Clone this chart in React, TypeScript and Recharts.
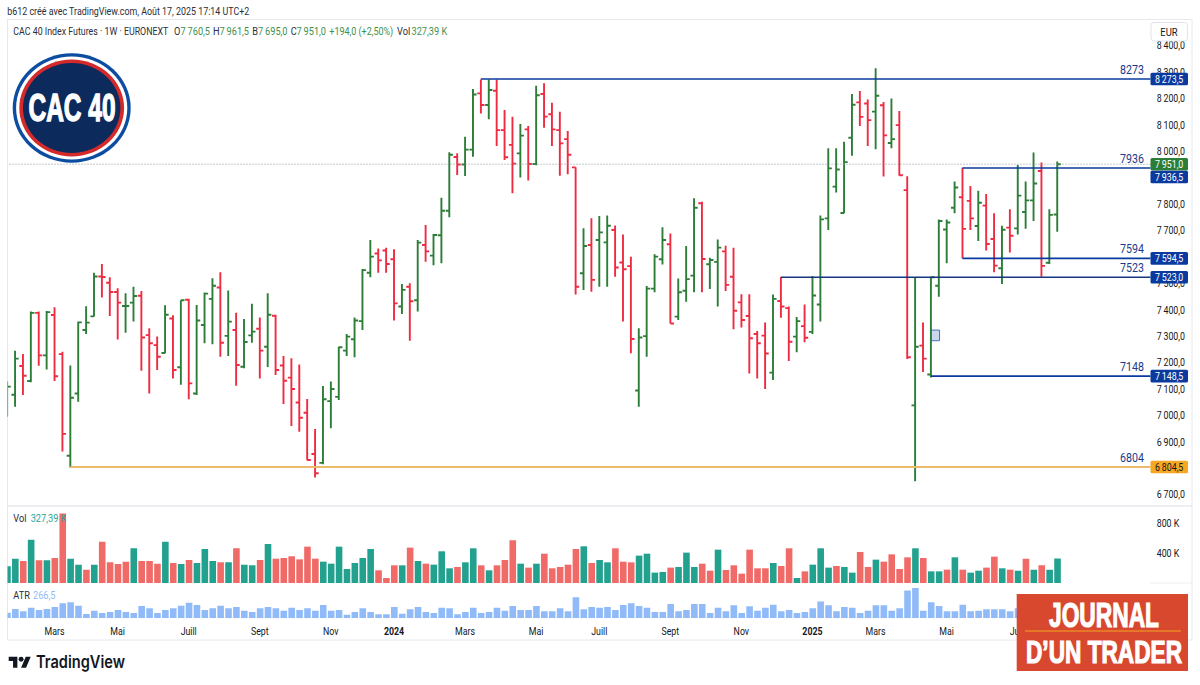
import React from "react";
import { ComposedChart, Bar, Cell, XAxis, YAxis, ReferenceLine, ReferenceArea } from "recharts";

// Weekly OHLC values
const opens = [7071,7078,7187,7130,7388,7227,7380,7232,6847,7083,7323,7375,7526,7502,7467,7414,7427,7453,7304,7266,7236,7367,7182,7438,7083,7342,7441,7484,7301,7323,7184,7303,7328,7260,7377,7189,7143,7049,7010,6854,6820,7054,7070,7245,
7288,7357,7540,7613,7624,7591,7412,7487,7436,7645,7605,7682,7775,7978,7950,8006,8219,8175,8229,8080,8024,7992,8083,7952,8217,8140,8080,8046,7939,7538,7645,7664,7655,7702,7579,7565,7094,7300,7480,7591,7648,7374,7472,7529,7803,7572,7581,7621,7525,7428,7376,7308,7302,7162,7433,7406,7298,7338,7316,7420,7746,7866,7766,8051,8185,8181,8150,8174,8031,8099,7853,7038,7264,
7155,7491,7704,7786,7826,7812,7717,7794,7668,7557,7711,7708,7770,7814,7925,7578,7760.5];
const highs = [7128,7245,7232,7393,7393,7395,7409,7241,7189,7355,7413,7540,7573,7523,7481,7462,7487,7471,7330,7299,7417,7379,7436,7442,7418,7465,7519,7542,7473,7389,7365,7423,7371,7462,7381,7225,7216,7193,7062,6948,7111,7128,7260,7308,
7371,7554,7664,7632,7635,7629,7497,7500,7664,7721,7687,7824,7996,7992,8055,8236,8272,8272,8272,8156,8131,8103,8096,8248,8257,8184,8150,8077,7939,7708,7746,7755,7757,7719,7685,7601,7330,7490,7610,7712,7689,7518,7641,7822,7809,7597,7666,7642,7635,7459,7459,7319,7352,7458,7524,7412,7372,7420,7528,7757,8011,8011,8036,8217,8228,8196,8314,8186,8200,8152,7905,7524,7352,
7525,7742,7742,7885,7938,7868,7850,7838,7765,7718,7780,7948,7885,7995,7957,7780,7961.5];
const lows = [6995,7033,7077,7125,7188,7174,7130,6863,6803,7052,7308,7374,7446,7376,7287,7313,7355,7169,7083,7172,7235,7140,7116,7061,7077,7273,7269,7222,7225,7112,7178,7275,7140,7183,7153,7043,6960,6938,6830,6765,6815,6951,7058,7225,
7220,7323,7523,7540,7540,7359,7384,7283,7393,7582,7568,7576,7750,7910,7906,7979,8143,8121,8020,7967,7841,7901,7889,7947,8089,8020,7907,7913,7458,7475,7468,7487,7487,7525,7355,7235,7033,7222,7466,7571,7348,7361,7430,7466,7466,7478,7412,7471,7326,7333,7159,7140,7100,7134,7370,7206,7239,7277,7308,7355,7702,7844,7765,7983,8096,8020,8008,7904,8011,7907,7213,6751,7164,
7143,7449,7576,7765,7595,7702,7660,7624,7542,7497,7617,7685,7707,7736,7525,7573,7695];
const closes = [7109,7215,7150,7388,7227,7391,7148,6930,7067,7352,7351,7526,7524,7467,7427,7414,7452,7295,7273,7222,7381,7172,7436,7121,7359,7461,7491,7275,7355,7191,7278,7317,7245,7381,7172,7131,7100,6991,6831,6781,7061,7100,7258,7298,
7359,7550,7601,7587,7573,7424,7475,7432,7654,7621,7683,7775,7987,7950,8006,8215,8175,8232,8080,7977,7953,8059,7952,8212,8131,8083,8030,7987,7487,7641,7513,7693,7718,7560,7553,7289,7295,7480,7601,7664,7348,7466,7516,7786,7592,7588,7635,7494,7396,7361,7292,7273,7234,7441,7412,7279,7357,7294,7454,7742,7935,7931,7959,8176,8130,8118,8210,8060,8046,7909,7220,7260,7215,
7523,7736,7730,7863,7706,7746,7805,7649,7567,7703,7680,7832,7814,7878,7566,7759,7951];
const volumes = [224,326,295,581,304,304,335,930,326,246,179,246,554,277,255,286,465,295,295,259,554,268,255,308,268,456,295,277,277,465,246,237,308,523,326,335,358,317,487,326,286,259,487,188,268,335,456,170,67,237,
237,474,295,259,246,425,197,215,277,465,237,170,237,308,572,259,206,259,393,197,215,246,456,492,268,308,277,465,286,277,367,393,139,148,206,215,407,215,259,165,447,174,237,125,447,197,197,268,228,465,67,
156,246,465,206,228,215,139,416,215,313,286,384,188,344,465,335,156,156,179,344,179,139,165,206,353,197,179,165,326,179,237,179,327];
const atrs = [181,299,224,341,267,299,363,480,512,405,139,245,171,203,267,203,171,395,320,171,267,320,405,501,427,267,320,405,320,363,245,203,320,363,320,245,341,267,320,245,427,245,267,117,203,320,203,128,128,363,
149,288,363,203,171,341,320,128,203,341,171,203,341,245,395,267,267,395,224,224,320,224,672,288,363,341,363,267,427,480,395,341,203,203,459,224,267,459,459,171,341,224,416,171,384,245,341,437,224,267,171,
203,320,534,416,224,363,341,171,245,416,416,245,320,886,971,245,512,395,224,224,437,224,245,288,288,288,224,320,280,270,300,275,266.5];

const priceTicks = [6700,6900,7000,7100,7200,7300,7400,7500,7700,7800,8000,8100,8200,8300,8400];
const volumeTicks = [400,800];
const timeTickIndexes = [6,14,23,32,41,49,58,67,75,84,93,102,110,119,128];
const timeTickNames = ["Mars","Mai","Juill","Sept","Nov","2024","Mars","Mai","Juill","Sept","Nov","2025","Mars","Mai","Juill"];

const levelStarts = [60,121,121,98,117,8];
const levelPrices = [8273.5,7936.5,7594.5,7523,7148.5,6804.5];
const levelNotes = ["8273","7936","7594","7523","7148","6804"];
const levelColors = ["#0b3a9e","#0b3a9e","#0b3a9e","#17357f","#0b3a9e","#e9bb6a"];
const levelTagFills = ["#0b3a9e","#0b3a9e","#0b3a9e","#0b3a9e","#0b3a9e","#f7a823"];
const levelTagTexts = ["#fff","#fff","#fff","#fff","#fff","#131722"];
const levelTagShift = [0,9,0,0,0,0];
const lastPrice = 7951;

const rows = opens.map((o, i) => ({
  i, o, h: highs[i], l: lows[i], c: closes[i], vol: volumes[i], atr: atrs[i],
}));

const W = 1200;
const DOMAIN: [number, number] = [0.05, 144.82];
const PRICE_DOMAIN: [number, number] = [6656.9, 8500.7];
const UI = "Roboto, sans-serif";
const HEAVY = "'Liberation Sans', sans-serif";
const GREEN = "#2c7d37";
const LEGEND_GREEN = "#3f8f4d";
const RED = "#ef2b42";
const INK = "#131722";
const fmtPrice = (v: number) => {
  const [a, b] = v.toFixed(1).split(".");
  return a.replace(/\B(?=(\d{3})+$)/g, "\u2009") + "," + b;
};

// Text with the squeezed look of the reference's screenshot
const T = ({ x, y, size = 11, sx = 0.8, fill = INK, anchor = "start", weight = 400, children }: any) => (
  <text
    transform={`translate(${x} ${y}) scale(${sx} 1)`}
    fontFamily={UI}
    fontSize={size}
    fontWeight={weight}
    fill={fill}
    textAnchor={anchor}
  >
    {children}
  </text>
);

const OhlcShape = (p: any) => {
  const { x, width, y, height, payload } = p;
  const cx = x + width / 2;
  const top = Math.min(y, y + height);
  const k = Math.abs(height) / (payload.h - payload.l);
  const yO = top + (payload.h - payload.o) * k;
  const yC = top + (payload.h - payload.c) * k;
  const col = payload.c >= payload.o ? GREEN : RED;
  return (
    <path
      d={`M${cx} ${top}V${top + Math.abs(height)}M${cx - 3.6} ${yO}H${cx}M${cx} ${yC}H${cx + 3.6}`}
      stroke={col}
      strokeWidth={1.9}
      fill="none"
    />
  );
};

const PriceTag = (p: any) => {
  const { viewBox, fill, color, text, note, shift } = p;
  const lineY = viewBox.y;
  const right = 1150.5;
  const yc = lineY + shift;
  return (
    <g>
      {note ? <T x={1144} y={lineY - 5} size={13} sx={0.82} fill="#1b3a8c" anchor="end">{note}</T> : null}
      <rect x={right} y={yc - 6.3} width={37.5} height={12.6} rx={1.5} fill={fill} />
      <T x={right + 18.7} y={yc + 3.8} fill={color} anchor="middle">{text}</T>
    </g>
  );
};

const TimeTick = (p: any) => {
  const { x, y, payload } = p;
  const name = timeTickNames[timeTickIndexes.indexOf(payload.value)];
  const bold = /^\d/.test(name);
  return <T x={x} y={y + 5} anchor="middle" weight={bold ? 700 : 400}>{name}</T>;
};

const ValueTick = (p: any) => {
  const { x, y, payload, format } = p;
  return <T x={x} y={y + 3.8}>{format(payload.value)}</T>;
};

const abs = (top: number, h: number): React.CSSProperties => ({ position: "absolute", left: 0, top, width: W, height: h });

export default function App() {
  return (
    <div style={{ position: "absolute", left: 0, top: 0, width: 1200, height: 685, background: "#fff", overflow: "hidden" }}>
      <svg width={1200} height={685} style={{ position: "absolute", left: 0, top: 0 }}>
        <rect x={7.5} y={19.5} width={1184.5} height={620.5} fill="none" stroke="#e6e8ee" />
        <line x1={8} x2={1192} y1={506} y2={506} stroke="#e6e8ee" strokeWidth={1.5} />
        <line x1={1150} x2={1192} y1={583} y2={583} stroke="#eceef2" />
      </svg>

      <div style={abs(19, 487)}>
        <ComposedChart width={W} height={487} data={rows} margin={{ top: 0, right: 0, bottom: 0, left: 7.5 }}>
          <XAxis type="number" dataKey="i" domain={DOMAIN} allowDataOverflow hide />
          <YAxis
            orientation="right"
            width={49.5}
            domain={PRICE_DOMAIN}
            allowDataOverflow
            ticks={priceTicks}
            interval={0}
            axisLine={false}
            tickLine={false}
            tickMargin={0.2}
            tick={<ValueTick format={fmtPrice} />}
          />
          <ReferenceLine y={lastPrice} stroke="#8a8f98" strokeDasharray="1 2" strokeWidth={1} />
          {levelPrices.map((price, k) => (
            <ReferenceLine
              key={k}
              segment={[{ x: levelStarts[k], y: price }, { x: DOMAIN[1], y: price }]}
              stroke={levelColors[k]}
              strokeWidth={k === 5 ? 2 : 1.6}
            />
          ))}
          <ReferenceArea x1={117} x2={118.1} y1={7282.7} y2={7323} fill="#c5d3ec" fillOpacity={0.9} stroke="#4a70c0" strokeWidth={1} />
          <Bar dataKey={(d: any) => [d.l, d.h]} barSize={2} shape={<OhlcShape />} isAnimationActive={false} />
        </ComposedChart>
      </div>

      <div style={abs(19, 487)}>
        <ComposedChart width={W} height={487} data={rows} margin={{ top: 0, right: 49.5, bottom: 0, left: 7.5 }}>
          <XAxis type="number" dataKey="i" domain={DOMAIN} allowDataOverflow hide />
          <YAxis hide domain={PRICE_DOMAIN} allowDataOverflow />
          <ReferenceLine
            y={lastPrice}
            stroke="none"
            label={<PriceTag fill={GREEN} color="#fff" text={fmtPrice(lastPrice)} shift={0} />}
          />
          {levelPrices.map((price, k) => (
            <ReferenceLine
              key={k}
              y={price}
              stroke="none"
              label={<PriceTag fill={levelTagFills[k]} color={levelTagTexts[k]} text={fmtPrice(price)} note={levelNotes[k]} shift={levelTagShift[k]} />}
            />
          ))}
        </ComposedChart>
      </div>

      <div style={abs(506, 77)}>
        <ComposedChart width={W} height={77} data={rows} margin={{ top: 0, right: 0, bottom: 0, left: 7.5 }}>
          <XAxis type="number" dataKey="i" domain={DOMAIN} allowDataOverflow hide />
          <YAxis
            orientation="right"
            width={49.5}
            domain={[0, 1032]}
            allowDataOverflow
            ticks={volumeTicks}
            axisLine={false}
            tickLine={false}
            tickMargin={0.2}
            tick={<ValueTick format={(v: number) => `${v} K`} />}
          />
          <Bar dataKey="vol" barSize={6.6} isAnimationActive={false}>
            {rows.map((r, k) => (
              <Cell key={k} fill={k === 0 || r.c >= rows[k - 1].c ? "#22a18f" : "#f06a68"} />
            ))}
          </Bar>
        </ComposedChart>
      </div>

      <div style={abs(583, 57)}>
        <ComposedChart width={W} height={57} data={rows} margin={{ top: 0, right: 49.5, bottom: 0, left: 7.5 }}>
          <XAxis
            type="number"
            dataKey="i"
            domain={DOMAIN}
            allowDataOverflow
            height={21.7}
            ticks={timeTickIndexes}
            interval={0}
            axisLine={false}
            tickLine={false}
            tickMargin={6}
            tick={<TimeTick />}
          />
          <YAxis hide domain={[0, 1130]} allowDataOverflow />
          <Bar dataKey="atr" barSize={6.6} fill="#90bbf8" isAnimationActive={false} />
        </ComposedChart>
      </div>

      <svg width={1200} height={685} style={{ position: "absolute", left: 0, top: 0 }} fontFamily={UI}>
        <text x={7.3} y={15} fontSize={11.5} fill="#2a2e39" textLength={242} lengthAdjust="spacingAndGlyphs">b612 créé avec TradingView.com, Août 17, 2025 17:14 UTC+2</text>
        <text x={13.3} y={35} fontSize={11.5} fill="#2a2e39" textLength={155} lengthAdjust="spacingAndGlyphs">CAC 40 Index Futures · 1W · EURONEXT</text>
        <T x={174} y={35} size={11.5} fill="#2a2e39">O</T>
        <T x={180.5} y={35} size={11.5} fill={LEGEND_GREEN}>7{"\u2009"}760,5</T>
        <T x={213} y={35} size={11.5} fill="#2a2e39">H</T>
        <T x={219.5} y={35} size={11.5} fill={LEGEND_GREEN}>7{"\u2009"}961,5</T>
        <T x={252.3} y={35} size={11.5} fill="#2a2e39">B</T>
        <T x={258} y={35} size={11.5} fill={LEGEND_GREEN}>7{"\u2009"}695,0</T>
        <T x={290.7} y={35} size={11.5} fill="#2a2e39">C</T>
        <T x={296.5} y={35} size={11.5} fill={LEGEND_GREEN}>7{"\u2009"}951,0</T>
        <T x={329.3} y={35} size={11.5} fill={LEGEND_GREEN} sx={0.78}>+194,0 (+2,50%)</T>
        <T x={397} y={35} size={11.5} fill="#2a2e39">Vol</T>
        <T x={411.5} y={35} size={11.5} fill={LEGEND_GREEN}>327,39 K</T>

        <rect x={1151} y={22.5} width={36.5} height={18.5} rx={3} fill="#fff" stroke="#e0e3eb" />
        <T x={1169} y={35.5} anchor="middle" size={10.5} sx={0.9}>EUR</T>

        <T x={13.3} y={521.5} size={11.5} fill="#2a2e39">Vol</T>
        <T x={30.7} y={521.5} size={11.5} fill="#26a69a">327,39 K</T>
        <T x={13.3} y={599} size={11.5} fill="#2a2e39">ATR</T>
        <T x={33} y={599} size={11.5} fill="#90bbf8">266,5</T>

        <ellipse cx={71.7} cy={108} rx={59} ry={54.7} fill="#0c4da2" />
        <ellipse cx={71.7} cy={108} rx={55.6} ry={51.4} fill="#fff" />
        <ellipse cx={71.7} cy={108} rx={52.4} ry={48.4} fill="#d42a2c" />
        <ellipse cx={71.7} cy={108} rx={48.7} ry={45} fill="#0c2a5c" />
        <text x={28.5} y={120.5} fontFamily={HEAVY} fontWeight={700} fontSize={38} fill="#fff" stroke="#fff" strokeWidth={1.4} textLength={87} lengthAdjust="spacingAndGlyphs">CAC 40</text>

        <rect x={1016.7} y={594} width={171.3} height={77} fill="#d8482e" />
        <text x={1049} y={627} fontFamily={HEAVY} fontWeight={700} fontSize={35} fill="#fff" stroke="#fff" strokeWidth={1.2} textLength={110} lengthAdjust="spacingAndGlyphs">JOURNAL</text>
        <line x1={1025} x2={1181} y1={631} y2={631} stroke="#f5a623" strokeWidth={1.2} />
        <text x={1026} y={663} fontFamily={HEAVY} fontWeight={700} fontSize={31} fill="#fff" stroke="#fff" strokeWidth={1.2} textLength={156} lengthAdjust="spacingAndGlyphs">D’UN TRADER</text>

        <g transform="translate(8.7 654.2) scale(0.62)" fill="#131722">
          <path d="M14 22H7V11H0V4h14v18zM28 22h-8l7.5-18h8L28 22z" />
          <circle cx={20} cy={8} r={4} />
        </g>
        <text x={36} y={668} fontFamily="Inter, sans-serif" fontWeight={600} fontSize={17} fill="#131722" textLength={89} lengthAdjust="spacingAndGlyphs">TradingView</text>
      </svg>
    </div>
  );
}
